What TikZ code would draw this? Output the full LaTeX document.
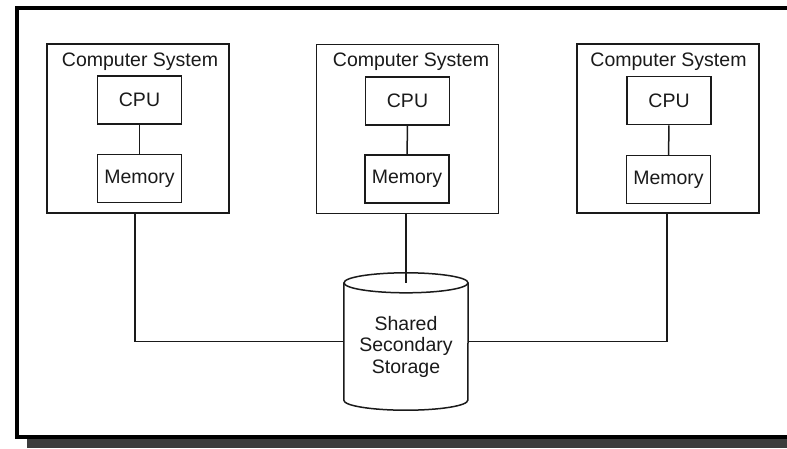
\documentclass[tikz,border=0pt]{standalone}
\usepackage{fontspec}
\setmainfont{Liberation Sans}
\definecolor{ink}{HTML}{1A1A1A}
\definecolor{shadowc}{HTML}{3C3C3C}
\begin{document}
\begin{tikzpicture}[x=1pt,y=-1pt,
  txt/.style={font=\fontsize{19.5}{21.5}\selectfont,text=ink},
  sysbox/.style={draw=ink,line width=1.5pt,minimum width=182pt,minimum height=169pt,inner sep=0pt},
  unitbox/.style={draw=ink,line width=1.5pt,minimum width=84pt,minimum height=48pt,inner sep=0pt,txt},
  lbl/.style={inner sep=0pt,txt},
  wire/.style={draw=ink,line width=1.5pt}]
\useasboundingbox (0,0) rectangle (787,448);
\clip (0,0) rectangle (787,448);
\fill[white] (0,0) rectangle (787,448);
\fill[shadowc] (27,439) rectangle (787,448);
\draw[line width=4pt] (800,8) -- (17,8) -- (17,437) -- (800,437);

% left system
\node[sysbox] (sys1) at (138,128.5) {};
\node[lbl] (t1) at (140,62) {Computer System};
\node[unitbox] (cpu1) at (139.5,100) {CPU};
\node[unitbox] (mem1) at (139.5,178.5) {Memory};
\draw[wire] (cpu1) -- (mem1);

% middle system
\node[sysbox] (sys2) at (407.5,129) {};
\node[lbl] (t2) at (411,62) {Computer System};
\node[unitbox] (cpu2) at (407.5,101) {CPU};
\node[unitbox] (mem2) at (407,179) {Memory};
\draw[wire] (cpu2) -- (mem2);

% right system
\node[sysbox] (sys3) at (668,128.5) {};
\node[lbl] (t3) at (668.5,62) {Computer System};
\node[unitbox] (cpu3) at (669,100.5) {CPU};
\node[unitbox] (mem3) at (668.5,179.5) {Memory};
\draw[wire] (cpu3) -- (mem3);

% shared storage
\node[minimum width=124pt,minimum height=137pt,inner sep=0pt] (st) at (406,341.5) {};
\node[lbl,align=center] (stt) at (406,346.5) {Shared\\Secondary\\Storage};
\coordinate (cyltop) at ([yshift=-10pt]st.north);
\draw[wire] ([yshift=-10pt]st.north west) -- ([yshift=10pt]st.south west)
  arc[start angle=180,end angle=360,x radius=62pt,y radius=10pt]
  -- ([yshift=-10pt]st.north east);
\draw[wire] (cyltop) ellipse[x radius=62pt,y radius=10pt];

% connectors
\draw[wire] (sys2.south -| cyltop) -- (cyltop);
\draw[wire] ([xshift=-3pt]sys1.south) |- (st.west);
\draw[wire] ([xshift=-1pt]sys3.south) |- (st.east);
\end{tikzpicture}
\end{document}
